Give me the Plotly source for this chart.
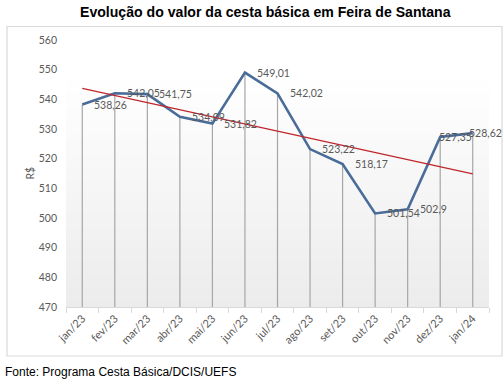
import numpy as np
import plotly.graph_objects as go

months = ["jan/23", "fev/23", "mar/23", "abr/23", "mai/23", "jun/23", "jul/23",
          "ago/23", "set/23", "out/23", "nov/23", "dez/23", "jan/24"]
values = [538.26, 542.05, 541.75, 534.09, 531.82, 549.01, 542.02,
          523.22, 518.17, 501.54, 502.9, 527.35, 528.62]
labels = ["538,26", "542,05", "541,75", "534,09", "531,82", "549,01", "542,02",
          "523,22", "518,17", "501,54", "502,9", "527,35", "528,62"]
y_min, y_max, y_step = 470, 560, 10

title = "Evolução do valor da cesta básica em Feira de Santana"
source = "Fonte: Programa Cesta Básica/DCIS/UEFS"

# linear trend line (least squares)
idx = np.arange(len(values))
slope, intercept = np.polyfit(idx, values, 1)
trend = [intercept + slope * i for i in idx]

L, R, T, B = 66, 15, 40, 72
W, H = 504, 379
pw, ph = W - L - R, H - T - B

fig = go.Figure()

# drop lines from each point to the axis
fig.add_trace(go.Scatter(
    x=months, y=values, mode="markers",
    marker=dict(size=1, color="rgba(0,0,0,0)"),
    error_y=dict(type="data", symmetric=False, array=[0] * len(values),
                 arrayminus=[v - y_min for v in values],
                 color="#A6A6A6", thickness=1.2, width=0),
    hoverinfo="skip", showlegend=False))

fig.add_trace(go.Scatter(
    x=months, y=values, mode="lines",
    line=dict(color="#4A6C98", width=2.6),
    showlegend=False))

fig.add_trace(go.Scatter(
    x=months, y=trend, mode="lines",
    line=dict(color="#C0262C", width=1.3),
    showlegend=False))

# data labels (to the right of each point; last two nudged left to fit)
label_annots = []
n_pts = len(values)
for i, (m, v, t) in enumerate(zip(months, values, labels)):
    shift = 10
    if i == n_pts - 2:
        shift = -3
    elif i == n_pts - 1:
        shift = -6
    label_annots.append(dict(
        x=m, y=v, xref="x", yref="y", text=t, showarrow=False,
        xanchor="left", yanchor="middle", xshift=shift,
        font=dict(family="Lato", size=10.5, color="#595959")))

# gradient background of plot area
shapes = []
n = 40
for i in range(n):
    f = i / n
    tt = max(0.0, 1 - f / 0.85)
    c = int(round(255 - (255 - 236) * tt))
    shapes.append(dict(type="rect", xref="x domain", yref="y domain",
                       x0=0, x1=1, y0=f, y1=f + 1 / n + 0.002,
                       fillcolor=f"rgb({c},{c},{c})", line=dict(width=0),
                       layer="below"))
# outer chart border
shapes.append(dict(type="rect", xref="paper", yref="paper",
                   x0=(7 - L) / pw, x1=(502 - L) / pw,
                   y0=(H - B - 356) / ph, y1=(H - B - 26.5) / ph,
                   line=dict(color="#D9D9D9", width=1.2), fillcolor="rgba(0,0,0,0)",
                   layer="below"))

fig.update_layout(
    width=W, height=H,
    margin=dict(l=L, r=R, t=T, b=B),
    paper_bgcolor="white", plot_bgcolor="white",
    shapes=shapes,
    annotations=label_annots + [
        dict(text=title, xref="paper", yref="paper",
             x=(265 - L) / pw, y=(H - B - 12) / ph, xanchor="center", yanchor="middle",
             showarrow=False,
             font=dict(family="Liberation Sans", size=14.1, color="#000000", weight="bold")),
        dict(text=source, xref="paper", yref="paper",
             x=(3 - L) / pw, y=(H - B - 371.5) / ph, xanchor="left", yanchor="middle",
             showarrow=False,
             font=dict(family="Liberation Sans", size=12, color="#000000")),
        dict(text="R$", xref="paper", yref="paper",
             x=(29 - L) / pw, y=0.5, xanchor="center", yanchor="middle",
             textangle=-90, showarrow=False,
             font=dict(family="Lato", size=10.5, color="#595959")),
    ],
    xaxis=dict(type="category", range=[-0.5, len(months) - 0.5],
               tickson="boundaries", ticks="outside", ticklen=5,
               tickcolor="#D9D9D9", showline=True, linecolor="#D9D9D9",
               showgrid=False, tickangle=-45,
               tickfont=dict(family="Lato", size=11, color="#595959")),
    yaxis=dict(range=[y_min, y_max], dtick=y_step, tick0=y_min,
               showgrid=False, zeroline=False, showline=False,
               ticks="", ticklabelstandoff=8,
               tickfont=dict(family="Lato", size=10.5, color="#595959")),
)

fig.write_html("out.html",
               config={"displayModeBar": False},
               post_script="document.body.style.margin='0';document.body.style.overflow='hidden';")
